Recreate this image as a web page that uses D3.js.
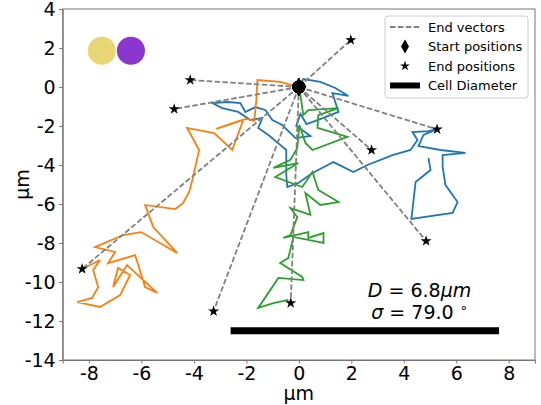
<!DOCTYPE html>
<html lang="en">
<head>
<meta charset="utf-8" />
<title>Cell trajectories</title>
<style>
   body { margin:0; padding:0; background:#fff; }
   svg { display:block; font-family:"DejaVu Sans", sans-serif; }
   .tick text { font-size:19px; fill:#000; }
   .tick line { stroke:#777; }
   .domain { stroke:#777; }
</style>
<script src="https://d3js.org/d3.v7.min.js"></script>
</head>
<body>
<svg id="main" width="541" height="405"></svg>
<script>
// trajectories in um
var blueX = [0,0.17,0.82,1.39,1.89,1.28,1.51,0.74,0.29,0.06,-0.10,0.44,-0.13,-0.63,-1.01,-1.28,-1.66,-2.04,-2.23,-2.69,-3.30,-2.92,-2.31,-1.85,-1.39,-1.55,-1.16,-0.71,-0.48,-0.48,-0.44,-0.02,0.52,1.32,2.08,2.61,3.57,4.26,4.52,4.33,4.94,5.29,4.75,4.56,5.40,6.35,5.48,5.48,5.59,6.05,5.86,4.29,4.45,5.02,4.94];
var blueY = [0,0.41,0.26,-0.05,-0.46,-0.31,-1.28,-1.69,-1.90,-1.38,-2.00,-2.51,-2.62,-1.95,-1.69,-1.18,-1.03,-1.28,-0.82,-0.77,-0.82,-1.08,-1.28,-1.69,-1.59,-2.10,-2.46,-2.97,-3.23,-4.51,-5.13,-4.92,-4.41,-3.85,-4.36,-4.00,-3.49,-3.23,-2.72,-2.31,-2.26,-2.15,-2.46,-3.03,-3.23,-3.38,-3.49,-4.10,-5.03,-5.90,-6.46,-6.77,-4.87,-4.26,-3.64];
var orangeX = [0,-0.71,-1.58,-1.62,-1.70,-2.00,-2.39,-3.15,-2.12,-2.54,-3.23,-4.26,-3.80,-4.06,-4.18,-4.41,-4.71,-5.86,-5.55,-4.64,-6.01,-6.70,-7.77,-7.00,-7.27,-6.24,-5.86,-5.40,-6.55,-7.08,-6.89,-6.43,-6.81,-7.58,-8.45,-7.88,-7.65,-7.84,-7.58,-8.26];
var orangeY = [0,0.26,0.36,-0.67,-1.74,-1.64,-1.79,-2.15,-1.69,-3.23,-2.36,-2.10,-3.23,-4.77,-5.38,-5.95,-6.26,-6.05,-7.18,-8.51,-7.44,-7.59,-8.21,-8.46,-9.03,-8.62,-10.26,-10.56,-9.13,-10.26,-9.28,-9.64,-10.67,-11.28,-11.03,-10.82,-10.26,-9.38,-8.87,-9.33];
var greenX = [0,0.06,0.17,0.36,1.51,0.74,0.71,1.85,0.52,0.25,0.02,-0.06,-0.32,-0.97,-0.02,-0.90,0.13,0.52,0.74,1.51,0.82,0.25,0.44,-0.32,-0.06,-0.32,-0.59,0.36,0.36,0.94,0.94,-0.21,-0.40,-0.71,0.13,0.17,-0.78,-1.55,-0.97,-0.40];
var greenY = [0,-0.41,-1.44,-1.18,-1.08,-1.44,-2.10,-2.56,-3.23,-2.87,-1.95,-3.13,-3.74,-4.15,-3.90,-4.62,-5.13,-4.36,-5.28,-5.90,-6.05,-5.44,-6.56,-6.21,-6.67,-7.59,-7.74,-7.44,-7.74,-7.49,-8.00,-7.69,-8.77,-9.03,-9.74,-9.90,-9.79,-11.33,-11.08,-10.92];
var trackColors = ['#1f77b4','#ff7f0e','#2ca02c'];

// end positions of all cells, start positions at origin
var endX = [1.98,-4.14,-4.75,5.27,2.77,4.85,-0.31,-3.25,-8.26];
var endY = [2.41,0.36,-1.13,-2.17,-3.23,-7.90,-11.08,-11.50,-9.33];
var startX = [0,0,0,0,0,0,0,0,0];
var startY = [0,0,0,0,0,0,0,0,0];

var xTicks = [-8,-6,-4,-2,0,2,4,6,8];
var yTicks = [4,2,0,-2,-4,-6,-8,-10,-12,-14];
var diamX = [-2.6,7.63], diamY = -12.5;
var dLabel = 6.8, sigmaLabel = 79.0;
var dotX = [-7.51,-6.40], dotY = 1.86, dotColors = ['#e8d674','#8a36cf'];

var svg = d3.select('#main');
var m = {left:62.7, right:6, top:9, bottom:45};
var W = 541, H = 405;
var x = d3.scaleLinear().domain([-9,9]).range([m.left, W-m.right]);
var y = d3.scaleLinear().domain([-14,4]).range([H-m.bottom, m.top]);
var fmt = function(d) { return String(d); };

// axes
var gx = svg.append('g').attr('transform','translate(0,'+(H-m.bottom)+')')
   .call(d3.axisBottom(x).tickValues(xTicks).tickFormat(fmt).tickSize(3.5).tickPadding(3));
var gy = svg.append('g').attr('transform','translate('+m.left+',0)')
   .call(d3.axisLeft(y).tickValues(yTicks).tickFormat(fmt).tickSize(3.5).tickPadding(3.5));
svg.selectAll('.tick text').attr('font-family','DejaVu Sans');
svg.append('rect').attr('x',m.left).attr('y',m.top)
   .attr('width',W-m.right-m.left).attr('height',H-m.bottom-m.top)
   .attr('fill','none').attr('stroke','#777').attr('stroke-width',1);
svg.append('text').attr('x',(m.left+W-m.right)/2).attr('y',400)
   .attr('text-anchor','middle').attr('font-size',19).text('μm');
svg.append('text').attr('transform','translate(29,'+((m.top+H-m.bottom)/2)+') rotate(-90)')
   .attr('text-anchor','middle').attr('font-size',19).text('μm');

// two dots top left
svg.selectAll('circle.dot').data(dotX).enter().append('circle').attr('class','dot')
   .attr('cx',function(d){return x(d);}).attr('cy',y(dotY))
   .attr('r',x(0.535)-x(0)).attr('fill',function(d,i){return dotColors[i];});

// trajectories
var line = d3.line().x(function(d){return x(d[0]);}).y(function(d){return y(d[1]);});
var tracks = [d3.zip(blueX,blueY), d3.zip(orangeX,orangeY), d3.zip(greenX,greenY)];
svg.selectAll('path.track').data(tracks).enter().append('path').attr('class','track')
   .attr('d',line).attr('fill','none').attr('stroke',function(d,i){return trackColors[i];})
   .attr('stroke-width',1.8).attr('stroke-linejoin','miter');

// end vectors
svg.selectAll('line.vec').data(endX).enter().append('line').attr('class','vec')
   .attr('x1',function(d,i){return x(startX[i]);}).attr('y1',function(d,i){return y(startY[i]);})
   .attr('x2',function(d){return x(d);}).attr('y2',function(d,i){return y(endY[i]);})
   .attr('stroke','#808080').attr('stroke-width',1.8).attr('stroke-dasharray','5.5,2.4');

// start markers (thin diamonds) and end markers (stars)
function thinDiamond(w,h) { return 'M0,'+(-h/2)+'L'+(w/2)+',0L0,'+(h/2)+'L'+(-w/2)+',0Z'; }
svg.selectAll('path.start').data(startX).enter().append('path').attr('class','start')
   .attr('transform',function(d,i){return 'translate('+x(d)+','+y(startY[i])+')';})
   .attr('d',thinDiamond(11,18)).attr('fill','#000');
svg.selectAll('circle.startc').data(startX).enter().append('circle').attr('class','startc')
   .attr('cx',function(d){return x(d);}).attr('cy',function(d,i){return y(startY[i]);})
   .attr('r',6.5).attr('fill','#000');
var star = d3.symbol().type(d3.symbolStar).size(38);
svg.selectAll('path.end').data(endX).enter().append('path').attr('class','end')
   .attr('transform',function(d,i){return 'translate('+x(d)+','+y(endY[i])+')';})
   .attr('d',star).attr('fill','#000');

// cell diameter
svg.append('line').attr('x1',x(diamX[0])).attr('x2',x(diamX[1]))
   .attr('y1',y(diamY)).attr('y2',y(diamY)).attr('stroke','#000').attr('stroke-width',7);

// D and sigma text
var t1 = svg.append('text').attr('x',x(4.6)).attr('y',y(-10.77)).attr('text-anchor','middle').attr('font-size',19);
t1.append('tspan').attr('font-style','italic').text('D');
t1.append('tspan').text(' = '+dLabel.toFixed(1));
t1.append('tspan').attr('font-style','italic').text('μm');
var t2 = svg.append('text').attr('x',x(4.6)).attr('y',y(-11.9)).attr('text-anchor','middle').attr('font-size',19);
t2.append('tspan').attr('font-style','italic').text('σ');
t2.append('tspan').text(' = '+sigmaLabel.toFixed(1)+' ');
t2.append('tspan').attr('font-size',13).attr('dy',-7).text('∘');

// legend
var lg = svg.append('g').attr('transform','translate(385,16)');
lg.append('rect').attr('width',143).attr('height',82).attr('rx',3)
   .attr('fill','#fff').attr('fill-opacity',0.8).attr('stroke','#ccc');
var legItems = ['End vectors','Start positions','End positions','Cell Diameter'];
var legY = [11,30.5,50,69.5];
legItems.forEach(function(name,i) {
   var g = lg.append('g').attr('transform','translate(0,'+legY[i]+')');
   if (i===0) g.append('line').attr('x1',5).attr('x2',35).attr('stroke','#808080').attr('stroke-width',1.8).attr('stroke-dasharray','5.5,2.4');
   if (i===1) g.append('path').attr('transform','translate(20,0)').attr('d',thinDiamond(8,14)).attr('fill','#000');
   if (i===2) g.append('path').attr('transform','translate(20,0)').attr('d',d3.symbol().type(d3.symbolStar).size(30)).attr('fill','#000');
   if (i===3) g.append('line').attr('x1',5).attr('x2',35).attr('stroke','#000').attr('stroke-width',6);
   g.append('text').attr('x',43).attr('dy','0.35em').attr('font-size',13).text(name);
});
</script>
</body>
</html>
